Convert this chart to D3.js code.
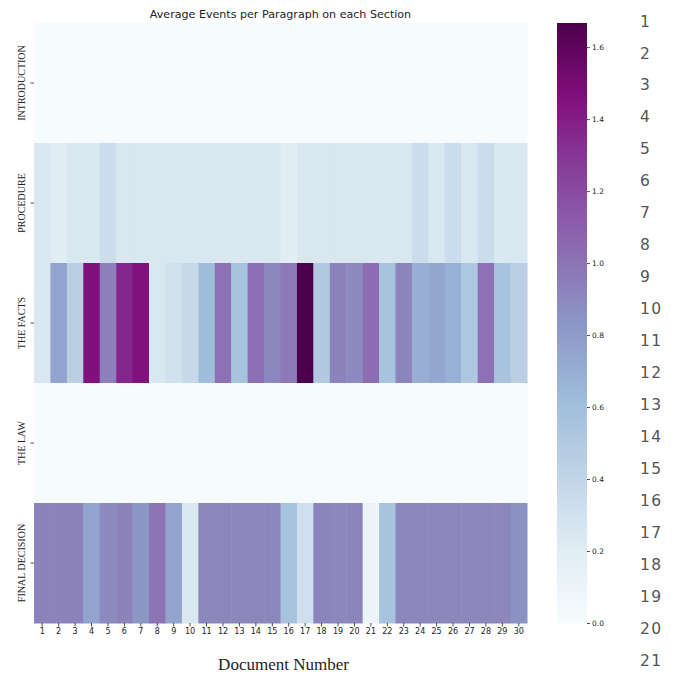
<!DOCTYPE html>
<html><head><meta charset="utf-8">
<script src="https://cdn.jsdelivr.net/npm/d3@7"></script>
<style>body{margin:0;background:#fff}svg{display:block}</style>
</head><body>
<script>
const sections = ["INTRODUCTION","PROCEDURE","THE FACTS","THE LAW","FINAL DECISION"];
const documents = d3.range(1,31);
const introduction = Array(30).fill(0.01);
const procedure = [0.25,0.2,0.25,0.25,0.34,0.25,0.25,0.25,0.25,0.25,0.25,0.25,0.25,0.25,0.25,0.2,0.25,0.25,0.25,0.25,0.25,0.25,0.25,0.34,0.25,0.34,0.25,0.34,0.25,0.25];
const theFacts = [0.25,0.76,0.45,1.46,0.945,1.36,1.45,0.25,0.3,0.37,0.61,1.01,0.56,1.02,0.91,0.97,1.667,0.5,0.925,0.89,1.03,0.56,0.92,0.70,0.74,0.69,0.525,1.01,0.56,0.45];
const theLaw = Array(30).fill(0.01);
const finalDecision = [0.925,0.925,0.925,0.76,0.89,0.93,0.83,1.0,0.76,0.25,0.91,0.91,0.91,0.91,0.91,0.57,0.32,0.92,0.9,0.92,0.1,0.56,0.91,0.91,0.91,0.91,0.91,0.91,0.91,0.86];
const colorbarTicks = [0.0,0.2,0.4,0.6,0.8,1.0,1.2,1.4,1.6];
const sideNumbers = d3.range(1,22);
const vmax = 1.667;

const rows = [introduction, procedure, theFacts, theLaw, finalDecision];
const cells = [];
rows.forEach((r,i)=>r.forEach((v,j)=>cells.push({s:sections[i], d:documents[j], v})));

const bupu = ["#f7fcfd","#e0ecf4","#bfd3e6","#9ebcda","#8c96c6","#8c6bb1","#88419d","#810f7c","#4d004b"];
const color = d3.scaleLinear().domain(d3.range(9).map(i=>i/8*vmax)).range(bupu).interpolate(d3.interpolateRgb).clamp(true);

const W=675,H=677;
const svg = d3.select("body").append("svg").attr("width",W).attr("height",H);
const L=34,R=527,T=23,B=623;
const x = d3.scaleBand().domain(documents).range([L,R]);
const y = d3.scaleBand().domain(sections).range([T,B]);

svg.append("g").selectAll("rect").data(cells).join("rect")
  .attr("x",d=>x(d.d)).attr("y",d=>y(d.s))
  .attr("width",x.bandwidth()+0.5).attr("height",y.bandwidth()+0.5)
  .attr("fill",d=>color(d.v));

const xa = svg.append("g").attr("transform",`translate(0,${B})`)
  .call(d3.axisBottom(x).tickSize(3.5).tickPadding(2));
xa.select(".domain").remove();
xa.selectAll("text").attr("font-family","DejaVu Sans").attr("font-size",8).attr("fill","#222");
xa.selectAll("line").attr("stroke","#222").attr("stroke-width",0.8);

const ya = svg.append("g").attr("transform",`translate(${L},0)`)
  .call(d3.axisLeft(y).tickSize(3.5).tickPadding(2));
ya.select(".domain").remove();
ya.selectAll("line").attr("stroke","#222").attr("stroke-width",0.8);
ya.selectAll(".tick text").attr("font-family","Liberation Serif").attr("font-size",10).attr("fill","#222")
  .attr("text-anchor","middle").attr("dy",0).attr("x",0).attr("y",0)
  .attr("transform","translate(-9.5,0) rotate(-90)");

svg.append("text").attr("x",(L+R)/2).attr("y",18).attr("text-anchor","middle")
  .attr("font-family","DejaVu Sans").attr("font-size",11.1).attr("fill","#222")
  .text("Average Events per Paragraph on each Section");

svg.append("text").attr("x",(L+R)/2+3).attr("y",670).attr("text-anchor","middle")
  .attr("font-family","Liberation Serif").attr("font-size",17).attr("fill","#222")
  .text("Document Number");

// colorbar
const cbL=557,cbW=30;
const cy = d3.scaleLinear().domain([0,vmax]).range([B,T]);
const defs = svg.append("defs");
const grad = defs.append("linearGradient").attr("id","cb").attr("x1",0).attr("y1",1).attr("x2",0).attr("y2",0);
d3.range(0,1.0001,0.02).forEach(t=>grad.append("stop").attr("offset",t).attr("stop-color",color(t*vmax)));
svg.append("rect").attr("x",cbL).attr("y",T).attr("width",cbW).attr("height",B-T).attr("fill","url(#cb)");
const ca = svg.append("g").attr("transform",`translate(${cbL+cbW},0)`)
  .call(d3.axisRight(cy).tickValues(colorbarTicks).tickFormat(d3.format(".1f")).tickSize(3).tickPadding(2));
ca.select(".domain").remove();
ca.selectAll("line").attr("stroke","#222").attr("stroke-width",0.8);
ca.selectAll("text").attr("font-family","DejaVu Sans").attr("font-size",7.5).attr("fill","#222");

// side numbers
svg.append("g").selectAll("text").data(sideNumbers).join("text")
  .attr("x",640).attr("y",(d,i)=>21+i*31.95).attr("dy","0.36em")
  .attr("font-family","DejaVu Sans").attr("font-size",15.5).attr("letter-spacing",1.5).attr("fill","#555")
  .text(d=>d);
</script>
</body></html>
